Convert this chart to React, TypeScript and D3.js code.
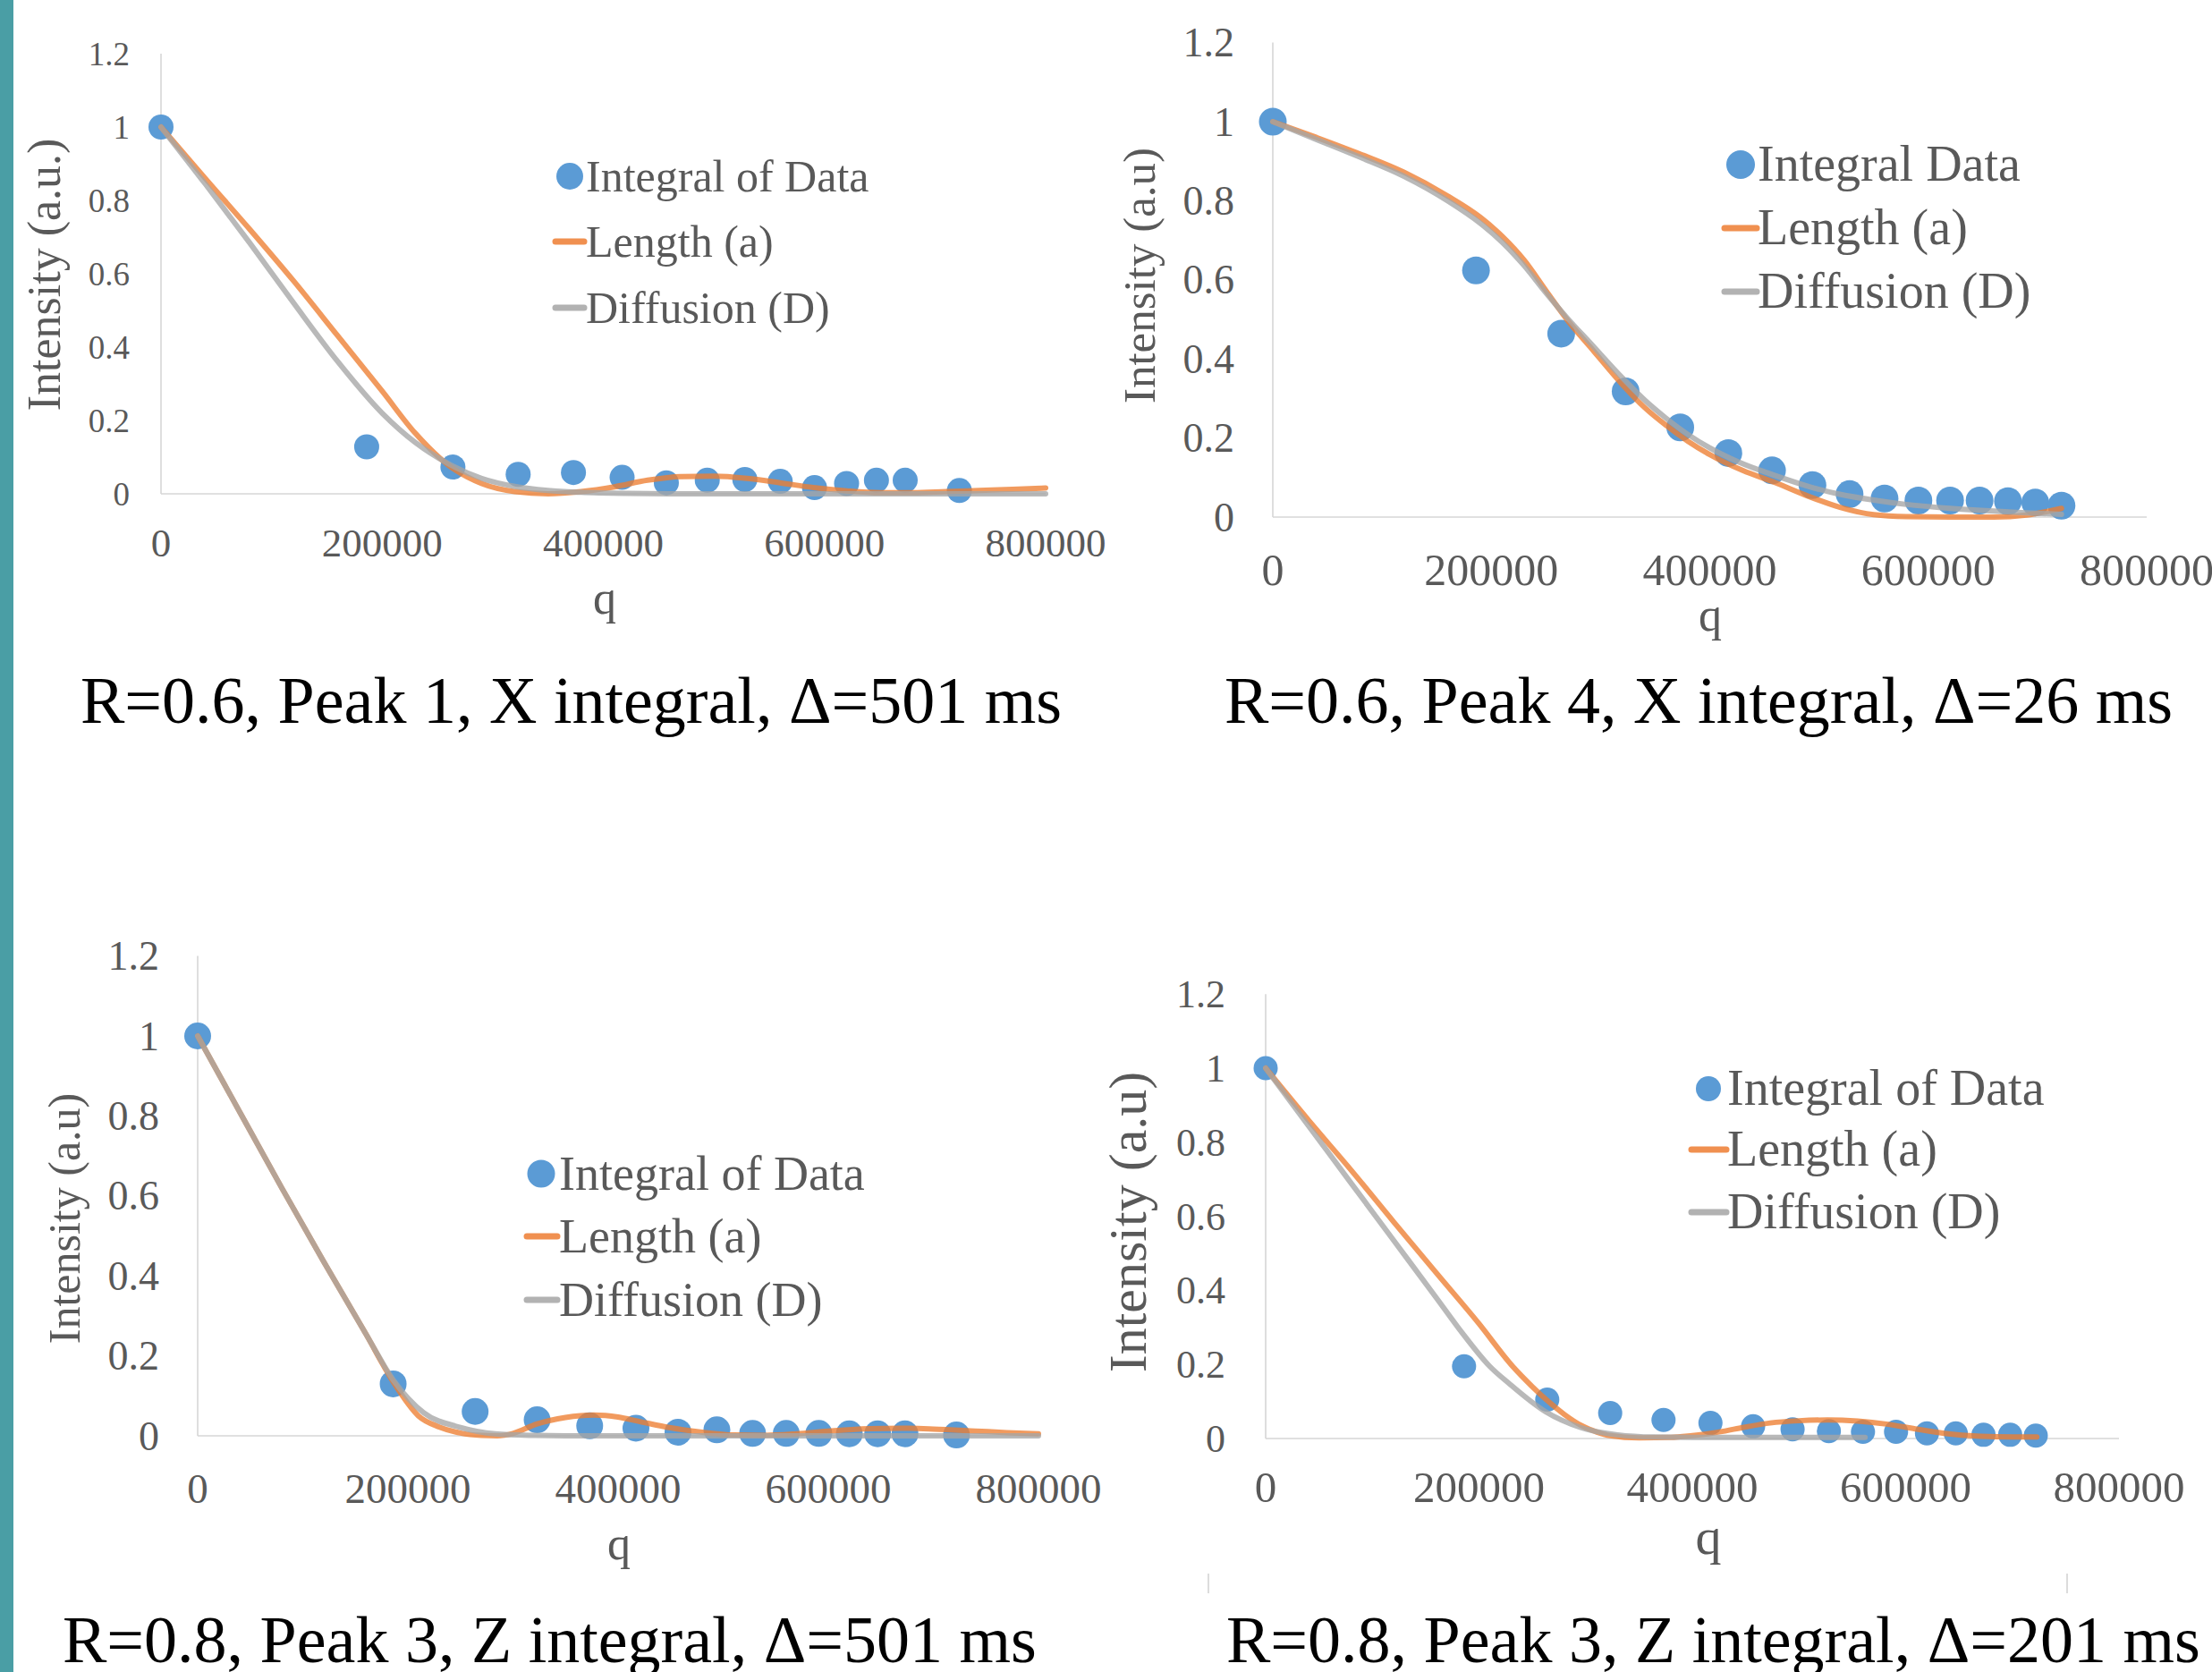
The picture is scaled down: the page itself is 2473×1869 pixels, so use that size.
import React from 'react';
import * as d3 from 'd3';

const W = 2473;
const H = 1869;
const FONT = "'Liberation Serif', 'Times New Roman', Times, serif";

const yTicks = [0, 0.2, 0.4, 0.6, 0.8, 1, 1.2];
const xTicks = [0, 200000, 400000, 600000, 800000];

// ---------- Panel 1: R=0.6, Peak 1, X integral, Δ=501 ms ----------
const q1 = [0, 186000, 264000, 323000, 373000, 417000, 457000, 494000, 528000, 560000, 591000, 620000, 647000, 673000, 722000];
const int1 = [1.0, 0.128, 0.073, 0.053, 0.058, 0.045, 0.030, 0.037, 0.039, 0.034, 0.017, 0.028, 0.037, 0.037, 0.009];
const lenQ1 = [0, 40000, 80000, 120000, 160000, 200000, 230000, 260000, 290000, 320000, 350000, 380000, 410000, 440000, 470000, 500000, 530000, 560000, 590000, 620000, 650000, 680000, 710000, 740000, 770000, 800000];
const lenV1 = [1, 0.86, 0.722, 0.58, 0.43, 0.28, 0.165, 0.078, 0.028, 0.006, 0, 0.006, 0.019, 0.037, 0.047, 0.048, 0.042, 0.030, 0.017, 0.008, 0.003, 0.003, 0.006, 0.009, 0.012, 0.016];
const difQ1 = [0, 40000, 80000, 120000, 160000, 200000, 230000, 260000, 290000, 320000, 350000, 380000, 420000, 460000, 800000];
const difV1 = [1, 0.845, 0.685, 0.52, 0.36, 0.22, 0.14, 0.082, 0.042, 0.02, 0.009, 0.004, 0.001, 0, 0];

// ---------- Panel 2: R=0.6, Peak 4, X integral, Δ=26 ms ----------
const q2 = [0, 186000, 264000, 323000, 373000, 417000, 457000, 494000, 528000, 560000, 591000, 620000, 647000, 673000, 698000, 722000];
const int2 = [1.0, 0.624, 0.464, 0.318, 0.227, 0.162, 0.118, 0.081, 0.058, 0.047, 0.042, 0.042, 0.042, 0.040, 0.037, 0.029];
const lenQ2 = [0, 40000, 80000, 120000, 160000, 190000, 210000, 230000, 250000, 270000, 290000, 320000, 340000, 360000, 380000, 400000, 430000, 460000, 490000, 520000, 550000, 580000, 620000, 660000, 690000, 722000];
const lenV2 = [1, 0.96, 0.918, 0.872, 0.812, 0.758, 0.71, 0.65, 0.573, 0.497, 0.432, 0.335, 0.278, 0.232, 0.192, 0.158, 0.118, 0.087, 0.053, 0.024, 0.006, 0.001, 0, 0, 0.005, 0.022];
const difQ2 = [0, 40000, 80000, 120000, 160000, 190000, 210000, 230000, 250000, 270000, 290000, 320000, 340000, 360000, 380000, 400000, 430000, 460000, 490000, 520000, 550000, 580000, 620000, 660000, 690000, 722000];
const difV2 = [1, 0.955, 0.91, 0.862, 0.8, 0.743, 0.695, 0.636, 0.567, 0.502, 0.442, 0.352, 0.297, 0.25, 0.209, 0.175, 0.135, 0.105, 0.078, 0.057, 0.043, 0.032, 0.022, 0.015, 0.011, 0.007];

// ---------- Panel 3: R=0.8, Peak 3, Z integral, Δ=501 ms ----------
const q3 = [0, 186000, 264000, 323000, 373000, 417000, 457000, 494000, 528000, 560000, 591000, 620000, 647000, 673000, 722000];
const int3 = [1.0, 0.130, 0.061, 0.040, 0.025, 0.019, 0.009, 0.015, 0.006, 0.006, 0.006, 0.005, 0.005, 0.005, 0.002];
const lenQ3 = [0, 40000, 80000, 120000, 160000, 186000, 210000, 230000, 250000, 270000, 285000, 300000, 323000, 350000, 377000, 400000, 420000, 450000, 480000, 510000, 540000, 570000, 600000, 640000, 670000, 700000, 740000, 770000, 800000];
const lenV3 = [1, 0.81, 0.62, 0.435, 0.255, 0.135, 0.05, 0.022, 0.007, 0.001, 0, 0.006, 0.03, 0.046, 0.052, 0.047, 0.036, 0.02, 0.009, 0.002, 0.001, 0.005, 0.012, 0.018, 0.019, 0.017, 0.012, 0.008, 0.005];
const difQ3 = [0, 40000, 80000, 120000, 160000, 186000, 215000, 250000, 283000, 320000, 350000, 800000];
const difV3 = [1, 0.81, 0.62, 0.435, 0.255, 0.14, 0.058, 0.021, 0.005, 0.001, 0, 0];

// ---------- Panel 4: R=0.8, Peak 3, Z integral, Δ=201 ms ----------
const q4 = [0, 186000, 264000, 323000, 373000, 417000, 457000, 494000, 528000, 560000, 591000, 620000, 647000, 673000, 698000, 722000];
const int4 = [1.0, 0.195, 0.105, 0.069, 0.050, 0.042, 0.033, 0.025, 0.020, 0.018, 0.018, 0.014, 0.014, 0.010, 0.010, 0.008];
const lenQ4 = [0, 40000, 80000, 120000, 160000, 200000, 231500, 250000, 265000, 280000, 296000, 310000, 323000, 350000, 380000, 400000, 420000, 446000, 473000, 500000, 527000, 555000, 582000, 609000, 636000, 670000, 700000, 723000];
const lenV4 = [1, 0.86, 0.725, 0.585, 0.447, 0.31, 0.195, 0.14, 0.1, 0.065, 0.035, 0.018, 0.008, 0.002, 0.003, 0.008, 0.015, 0.029, 0.042, 0.048, 0.05, 0.047, 0.039, 0.026, 0.014, 0.006, 0.004, 0.004];
const difQ4 = [0, 40000, 80000, 120000, 160000, 187000, 210000, 228000, 262000, 296000, 330000, 364000, 400000, 562000];
const difV4 = [1, 0.845, 0.69, 0.535, 0.38, 0.275, 0.195, 0.149, 0.073, 0.029, 0.01, 0.004, 0.003, 0.003];

const captions = [
  'R=0.6, Peak 1, X integral, Δ=501 ms',
  'R=0.6, Peak 4, X integral, Δ=26 ms',
  'R=0.8, Peak 3, Z integral, Δ=501 ms',
  'R=0.8, Peak 3, Z integral, Δ=201 ms',
];
const legendLabels = [
  ['Integral of Data', 'Length (a)', 'Diffusion (D)'],
  ['Integral Data', 'Length (a)', 'Diffusion (D)'],
  ['Integral of Data', 'Length (a)', 'Diffusion (D)'],
  ['Integral of Data', 'Length (a)', 'Diffusion (D)'],
];
const yTitles = ['Intensity (a.u.)', 'Intensity (a.u)', 'Intensity (a.u)', 'Intensity (a.u)'];
const xTitle = 'q';

const COLORS = { dots: '#5B9BD5', len: '#ED7D31', dif: '#A5A5A5', axis: '#d6d6d6', text: '#595959' };

const zip = (a: number[], b: number[]) => a.map((v, i) => [v, b[i]] as [number, number]);

const panels = [
  { pts: zip(q1, int1), len: zip(lenQ1, lenV1), dif: zip(difQ1, difV1) },
  { pts: zip(q2, int2), len: zip(lenQ2, lenV2), dif: zip(difQ2, difV2) },
  { pts: zip(q3, int3), len: zip(lenQ3, lenV3), dif: zip(difQ3, difV3) },
  { pts: zip(q4, int4), len: zip(lenQ4, lenV4), dif: zip(difQ4, difV4) },
];

const layouts = [
  { x0: 180, x1: 1169, y0: 552, yTop: 60, yTickX: 145, yTickFont: 37, xTickBase: 622, xTickFont: 45,
    qX: 676, qY: 686, qFont: 52, yTitleX: 67, yTitleY: 307, yTitleFont: 52,
    legX: 637, legRows: [197, 270, 344], legTextX: 655, legFont: 50, legR: 15, legLine: [621, 653],
    r: 14, capX: 90, capY: 808 },
  { x0: 1423, x1: 2400, y0: 578, yTop: 47.6, yTickX: 1380, yTickFont: 46, xTickBase: 654, xTickFont: 50,
    qX: 1912, qY: 705, qFont: 52, yTitleX: 1291, yTitleY: 308, yTitleFont: 51,
    legX: 1946, legRows: [184, 255, 326], legTextX: 1965, legFont: 56, legR: 16, legLine: [1928, 1964],
    r: 15.5, capX: 1369, capY: 808 },
  { x0: 221, x1: 1161, y0: 1605, yTop: 1068.6, yTickX: 178, yTickFont: 46, xTickBase: 1680, xTickFont: 47,
    qX: 692, qY: 1743, qFont: 52, yTitleX: 89, yTitleY: 1362, yTitleFont: 50,
    legX: 605, legRows: [1312, 1382, 1453], legTextX: 625, legFont: 54, legR: 15.5, legLine: [589, 623],
    r: 15, capX: 70, capY: 1858 },
  { x0: 1415, x1: 2369, y0: 1608, yTop: 1111.2, yTickX: 1370, yTickFont: 44, xTickBase: 1679, xTickFont: 49,
    qX: 1910, qY: 1737, qFont: 58, yTitleX: 1281, yTitleY: 1366, yTitleFont: 60,
    legX: 1910, legRows: [1217, 1285, 1355], legTextX: 1931, legFont: 56, legR: 14, legLine: [1891, 1930],
    r: 13.5, capX: 1371, capY: 1858 },
];

function Panel({ idx }: { idx: number }) {
  const L = layouts[idx];
  const P = panels[idx];
  const x = d3.scaleLinear().domain([0, 800000]).range([L.x0, L.x1]);
  const y = d3.scaleLinear().domain([0, 1.2]).range([L.y0, L.yTop]);
  const line = d3.line<[number, number]>().x(d => x(d[0])).y(d => y(d[1])).curve(d3.curveMonotoneX);
  const lw = 6;
  return (
    <g fontFamily={FONT}>
      {/* axes */}
      <line x1={L.x0} x2={L.x0} y1={L.y0} y2={L.yTop} stroke={COLORS.axis} strokeWidth={1.6} />
      <line x1={L.x0} x2={L.x1} y1={L.y0} y2={L.y0} stroke={COLORS.axis} strokeWidth={1.6} />
      {yTicks.map(t => (
        <text key={'y' + t} x={L.yTickX} y={y(t) + L.yTickFont * 0.34} textAnchor="end"
          fontSize={L.yTickFont} fill={COLORS.text}>{String(t)}</text>
      ))}
      {xTicks.map(t => (
        <text key={'x' + t} x={x(t)} y={L.xTickBase} textAnchor="middle"
          fontSize={L.xTickFont} fill={COLORS.text}>{String(t)}</text>
      ))}
      <text x={L.qX} y={L.qY} textAnchor="middle" fontSize={L.qFont} fill={COLORS.text}>{xTitle}</text>
      <text transform={`translate(${L.yTitleX},${L.yTitleY}) rotate(-90)`} textAnchor="middle"
        fontSize={L.yTitleFont} fill={COLORS.text}>{yTitles[idx]}</text>

      {/* data */}
      {P.pts.map((d, i) => (
        <circle key={'p' + i} cx={x(d[0])} cy={y(d[1])} r={L.r} fill={COLORS.dots} />
      ))}
      <path d={line(P.len) || ''} fill="none" stroke={COLORS.len} strokeOpacity={0.78} strokeWidth={lw}
        strokeLinecap="round" strokeLinejoin="round" />
      <path d={line(P.dif) || ''} fill="none" stroke={COLORS.dif} strokeOpacity={0.78} strokeWidth={lw}
        strokeLinecap="round" strokeLinejoin="round" />

      {/* legend */}
      <circle cx={L.legX} cy={L.legRows[0]} r={L.legR} fill={COLORS.dots} />
      <line x1={L.legLine[0]} x2={L.legLine[1]} y1={L.legRows[1]} y2={L.legRows[1]} stroke={COLORS.len}
        strokeOpacity={0.85} strokeWidth={7} strokeLinecap="round" />
      <line x1={L.legLine[0]} x2={L.legLine[1]} y1={L.legRows[2]} y2={L.legRows[2]} stroke={COLORS.dif}
        strokeOpacity={0.85} strokeWidth={7} strokeLinecap="round" />
      {legendLabels[idx].map((s, i) => (
        <text key={'l' + i} x={L.legTextX} y={L.legRows[i] + L.legFont * 0.33} fontSize={L.legFont}
          fill={COLORS.text}>{s}</text>
      ))}

      {/* caption */}
      <text x={L.capX} y={L.capY} fontSize={74} fill="#000">{captions[idx]}</text>
    </g>
  );
}

export default function App() {
  return (
    <svg width={W} height={H} viewBox={`0 0 ${W} ${H}`}
      style={{ position: 'absolute', left: 0, top: 0, display: 'block', background: '#fff' }}>
      <rect x={0} y={0} width={W} height={H} fill="#fff" />
      <rect x={0} y={0} width={15} height={H} fill="#4a9ea5" />
      {[0, 1, 2, 3].map(i => <Panel key={i} idx={i} />)}
      {/* faint remnants of a cropped frame under panel 4 */}
      <line x1={1351} x2={1351} y1={1759} y2={1781} stroke="#dcdcdc" strokeWidth={2} />
      <line x1={2311} x2={2311} y1={1759} y2={1781} stroke="#dcdcdc" strokeWidth={2} />
    </svg>
  );
}
